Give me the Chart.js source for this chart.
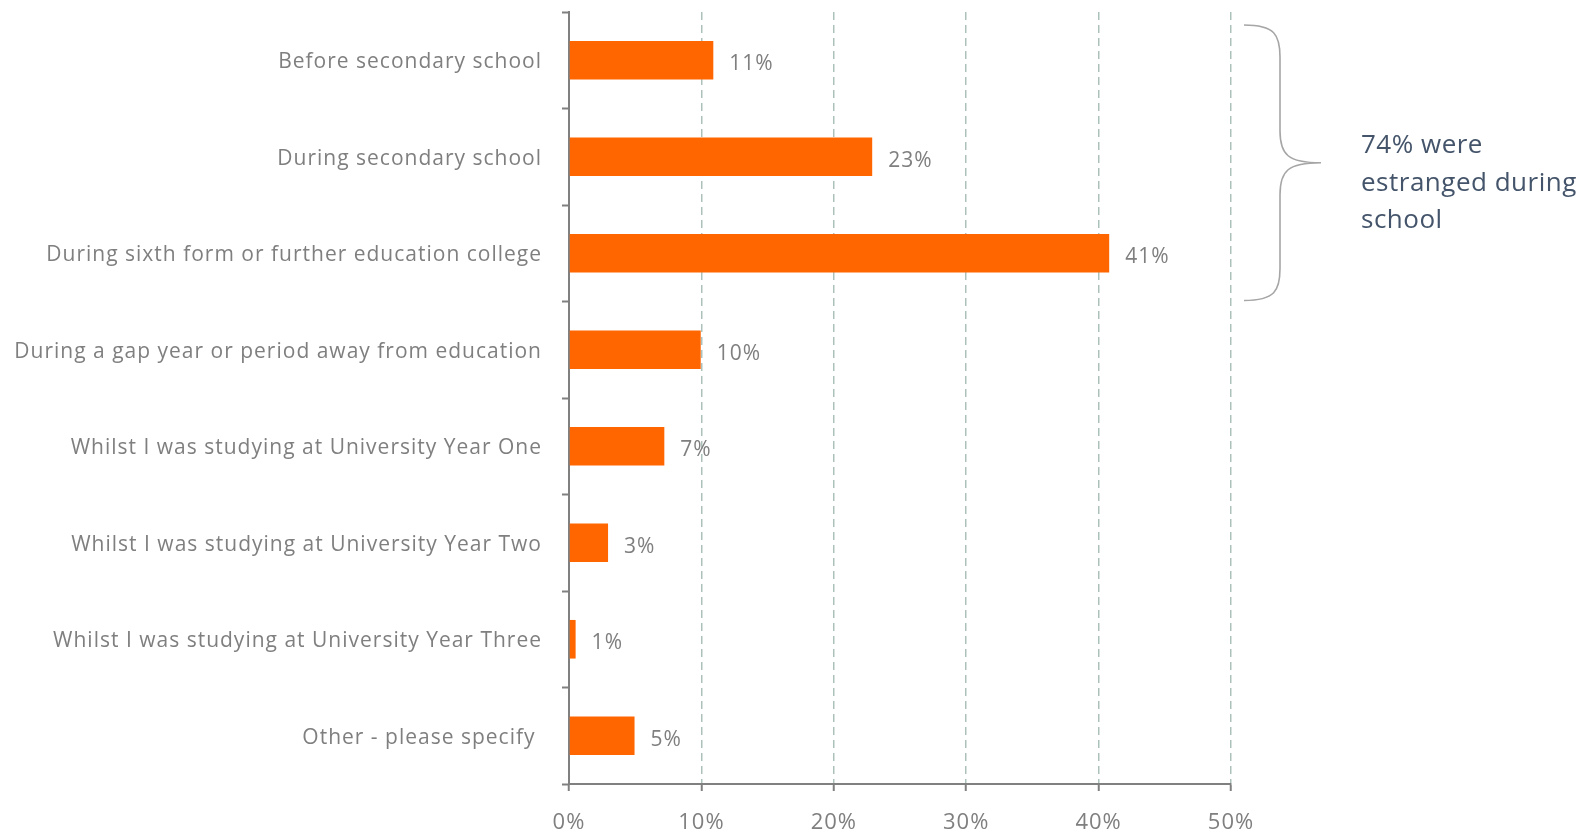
<!DOCTYPE html>
<html>
<head>
<meta charset="utf-8">
<script src="https://cdn.jsdelivr.net/npm/chart.js@4"></script>
<style>
  html, body { margin: 0; padding: 0; background: #fff; overflow: hidden; }
  canvas { display: block; }
</style>
</head>
<body>
<canvas id="c" width="1581" height="832" style="width:1581px;height:832px"></canvas>
<script>
const categories = [
  "Before secondary school",
  "During secondary school",
  "During sixth form or further education college",
  "During a gap year or period away from education",
  "Whilst I was studying at University Year One",
  "Whilst I was studying at University Year Two",
  "Whilst I was studying at University Year Three",
  "Other - please specify "
];
const values = [10.9, 22.9, 40.8, 9.95, 7.2, 2.95, 0.5, 4.95];
const valueLabels = ["11%", "23%", "41%", "10%", "7%", "3%", "1%", "5%"];
const annotationLines = ["74% were", "estranged during", "school"];
const bracketFrom = 0, bracketTo = 2;

const FONT = "'Open Sans', Lato, sans-serif";
const GRAY = "#7f7f7f";
const SPACING = "1px";

const spacingPlugin = {
  id: 'spacing',
  beforeDraw(chart) { chart.ctx.letterSpacing = SPACING; }
};

const valueLabelPlugin = {
  id: 'valueLabels',
  afterDatasetsDraw(chart) {
    const ctx = chart.ctx;
    const meta = chart.getDatasetMeta(0);
    ctx.save();
    ctx.letterSpacing = SPACING;
    ctx.font = "21px " + FONT;
    ctx.fillStyle = GRAY;
    ctx.textBaseline = "middle";
    ctx.textAlign = "left";
    meta.data.forEach((bar, i) => {
      ctx.fillText(valueLabels[i], bar.x + 16, bar.y + 4);
    });
    ctx.restore();
  }
};

const bracePlugin = {
  id: 'brace',
  afterDraw(chart) {
    const ctx = chart.ctx;
    const ys = chart.scales.y;
    const step = ys.getPixelForValue(1) - ys.getPixelForValue(0);
    const top = ys.getPixelForValue(bracketFrom) - step / 2 + 13;
    const bottom = ys.getPixelForValue(bracketTo) + step / 2 - 1;
    const mid = (top + bottom) / 2;
    const x0 = chart.chartArea.right + 13;
    const xv = x0 + 36;
    const xt = x0 + 77;
    const r = 32;
    ctx.save();
    ctx.letterSpacing = "0px";
    ctx.strokeStyle = "#a6a6a6";
    ctx.lineWidth = 1.6;
    ctx.beginPath();
    ctx.moveTo(x0, top);
    ctx.bezierCurveTo(xv - 5, top, xv, top + 10, xv, top + r);
    ctx.lineTo(xv, mid - r);
    ctx.bezierCurveTo(xv, mid - 8, xv + 8, mid, xt, mid);
    ctx.bezierCurveTo(xv + 8, mid, xv, mid + 8, xv, mid + r);
    ctx.lineTo(xv, bottom - r);
    ctx.bezierCurveTo(xv, bottom - 10, xv - 5, bottom, x0, bottom);
    ctx.stroke();
    ctx.letterSpacing = "0.5px";
    ctx.font = "26px " + FONT;
    ctx.fillStyle = "#44546a";
    ctx.textBaseline = "middle";
    ctx.textAlign = "left";
    annotationLines.forEach((t, i) => {
      ctx.fillText(t, xt + 40, mid - 17 + i * 37.6);
    });
    ctx.restore();
  }
};

new Chart(document.getElementById('c'), {
  type: 'bar',
  data: {
    labels: categories,
    datasets: [{
      data: values,
      backgroundColor: "#ff6600",
      borderWidth: 0,
      categoryPercentage: 1,
      barPercentage: 0.4
    }]
  },
  options: {
    indexAxis: 'y',
    responsive: false,
    maintainAspectRatio: false,
    animation: false,
    devicePixelRatio: 1,
    layout: { padding: { top: 12, right: 350, left: 0, bottom: 0 } },
    plugins: { legend: { display: false }, tooltip: { enabled: false } },
    scales: {
      x: {
        min: 0, max: 50,
        ticks: {
          stepSize: 10,
          callback: v => v + "%",
          color: GRAY,
          font: { size: 22, family: FONT },
          padding: 19,
          maxRotation: 0
        },
        grid: {
          color: "#adc1bc",
          lineWidth: 1.5,
          tickColor: "#808080",
          tickLength: 7,
          tickWidth: 2
        },
        border: { display: true, color: "#808080", width: 2, dash: [8, 5] },
        afterFit(s) { s.height = 48; s.paddingLeft = 0; s.paddingRight = 0; }
      },
      y: {
        ticks: {
          color: GRAY,
          font: { size: 21, family: FONT },
          padding: 20,
          labelOffset: 2,
          autoSkip: false
        },
        grid: {
          drawOnChartArea: false,
          tickColor: "#808080",
          tickLength: 7,
          tickWidth: 2,
          offset: true
        },
        border: { display: true, color: "#808080", width: 2 },
        afterFit(s) { s.width = 569; s.paddingTop = 0; s.paddingBottom = 0; }
      }
    }
  },
  plugins: [spacingPlugin, valueLabelPlugin, bracePlugin]
});
</script>
</body>
</html>
